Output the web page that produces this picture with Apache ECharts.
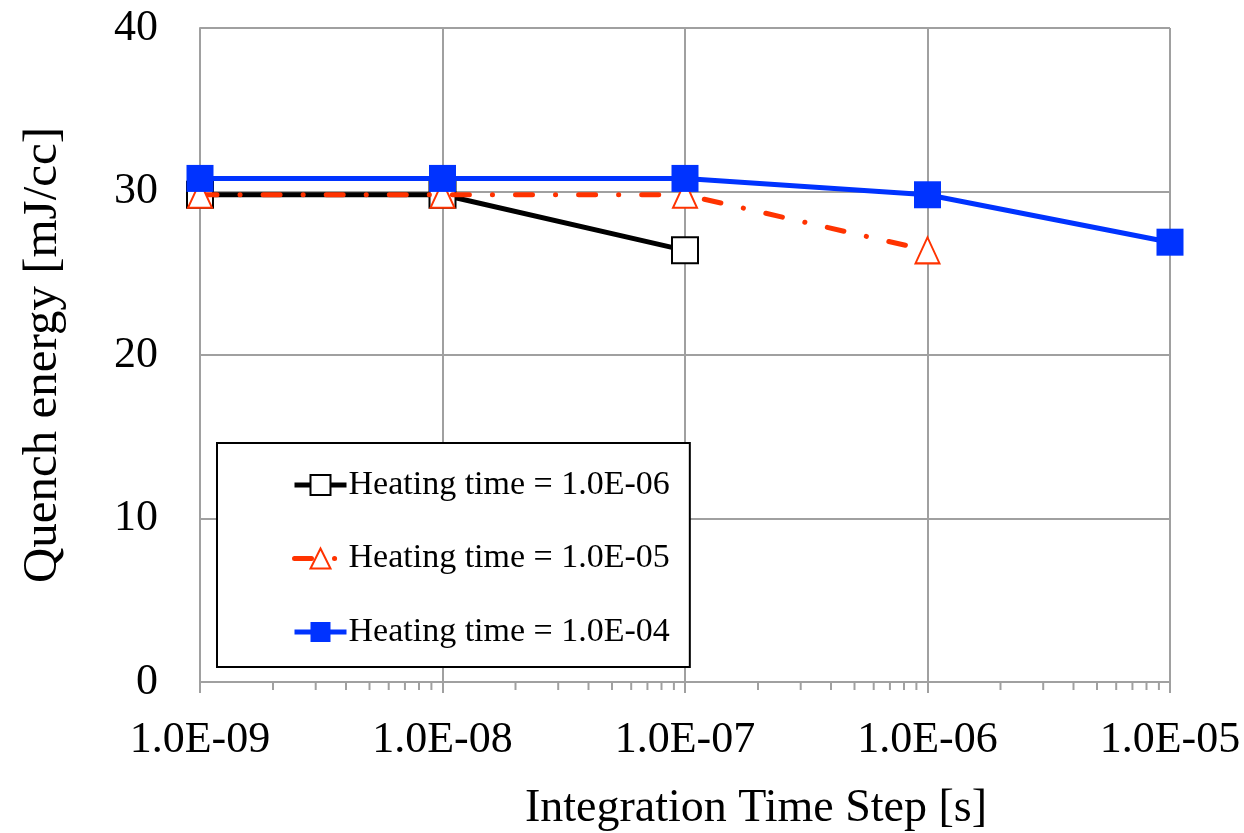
<!DOCTYPE html>
<html>
<head>
<meta charset="utf-8">
<script src="https://cdn.jsdelivr.net/npm/echarts@6/dist/echarts.min.js"></script>
<style>html,body{margin:0;padding:0;background:#fff}#c{width:1244px;height:833px}</style>
</head>
<body>
<div id="c"></div>
<script>
const timeSteps = [1e-9, 1e-8, 1e-7, 1e-6, 1e-5];
const xTickLabels = ['1.0E-09', '1.0E-08', '1.0E-07', '1.0E-06', '1.0E-05'];
const yTickLabels = ['0', '10', '20', '30', '40'];
const seriesNames = ['Heating time = 1.0E-06', 'Heating time = 1.0E-05', 'Heating time = 1.0E-04'];
const heat1e6 = [29.8, 29.8, 26.4];
const heat1e5 = [29.8, 29.8, 29.8, 26.4];
const heat1e4 = [30.8, 30.8, 30.8, 29.8, 26.9];
const minorMultipliers = [2, 3, 4, 5, 6, 7, 8, 9];

const FONT = 'Liberation Serif';
function pairs(vals) { return vals.map((v, i) => [timeSteps[i], v]); }
const minorTicks = [];
for (let d = 0; d < timeSteps.length - 1; d++) {
  for (const m of minorMultipliers) minorTicks.push([timeSteps[d] * m, 0]);
}

const chart = echarts.init(document.getElementById('c'), null, {renderer: 'canvas'});
chart.setOption({
  animation: false,
  backgroundColor: '#fff',
  grid: {left: 200, right: 74, top: 28, bottom: 151, containLabel: false, outerBoundsMode: 'none'},
  xAxis: {
    type: 'log', logBase: 10, min: 1e-9, max: 1e-5,
    name: 'Integration Time Step [s]', nameLocation: 'middle', nameGap: 104,
    nameTextStyle: {fontFamily: FONT, fontSize: 46, color: '#000', padding: [0, 0, 0, 142]},
    axisLine: {lineStyle: {color: '#a0a0a0', width: 2}},
    axisTick: {show: true, length: 11, inside: false, lineStyle: {color: '#a0a0a0', width: 2}},
    minorTick: {show: false},
    axisLabel: {
      fontFamily: FONT, fontSize: 44, color: '#000', margin: 36,
      formatter: v => { const i = Math.round(Math.log10(v) + 9); return xTickLabels[i] || ''; }
    },
    splitLine: {show: true, lineStyle: {color: '#a0a0a0', width: 2}}
  },
  yAxis: {
    type: 'value', min: 0, max: 40, interval: 10,
    name: 'Quench energy [mJ/cc]', nameLocation: 'middle', nameGap: 132,
    nameTextStyle: {fontFamily: FONT, fontSize: 49, color: '#000'},
    axisLine: {show: true, lineStyle: {color: '#a0a0a0', width: 2}},
    axisTick: {show: false},
    axisLabel: {
      fontFamily: FONT, fontSize: 44, color: '#000', margin: 42,
      formatter: v => yTickLabels[Math.round(v / 10)]
    },
    splitLine: {show: true, lineStyle: {color: '#a0a0a0', width: 2}}
  },
  legend: {
    data: seriesNames,
    orient: 'vertical', left: 217, top: 443,
    backgroundColor: '#fff', borderColor: '#000', borderWidth: 2,
    padding: [25, 20, 18, 75],
    itemGap: 39.5, itemWidth: 52, itemHeight: 25,
    lineStyle: {width: 5},
    textStyle: {fontFamily: FONT, fontSize: 34, color: '#000', padding: [0, 0, 0, -3]}
  },
  series: [
    {
      name: seriesNames[0], type: 'line', data: pairs(heat1e6),
      symbol: 'rect', symbolSize: 26,
      itemStyle: {color: '#fff', borderColor: '#000', borderWidth: 2},
      lineStyle: {color: '#000', width: 5}, z: 2
    },
    {
      name: seriesNames[1], type: 'line', data: pairs(heat1e5),
      symbol: 'triangle', symbolSize: [24, 26],
      itemStyle: {color: '#fff', borderColor: '#ff3300', borderWidth: 2},
      lineStyle: {color: '#ff3300', width: 5, type: [17, 23, 0.1, 23], cap: 'round'}, z: 3
    },
    {
      name: seriesNames[2], type: 'line', data: pairs(heat1e4),
      symbol: 'rect', symbolSize: 27,
      itemStyle: {color: '#0033ff', borderColor: '#0033ff', borderWidth: 0},
      lineStyle: {color: '#0033ff', width: 5}, z: 4
    },
    {
      name: 'minorTicks', type: 'custom', data: minorTicks, clip: false, silent: true,
      renderItem: (params, api) => {
        const p = api.coord([api.value(0), api.value(1)]);
        return {type: 'line', shape: {x1: p[0], y1: p[1], x2: p[0], y2: p[1] + 8},
                style: {stroke: '#a0a0a0', lineWidth: 2}};
      }
    }
  ]
});
</script>
</body>
</html>
